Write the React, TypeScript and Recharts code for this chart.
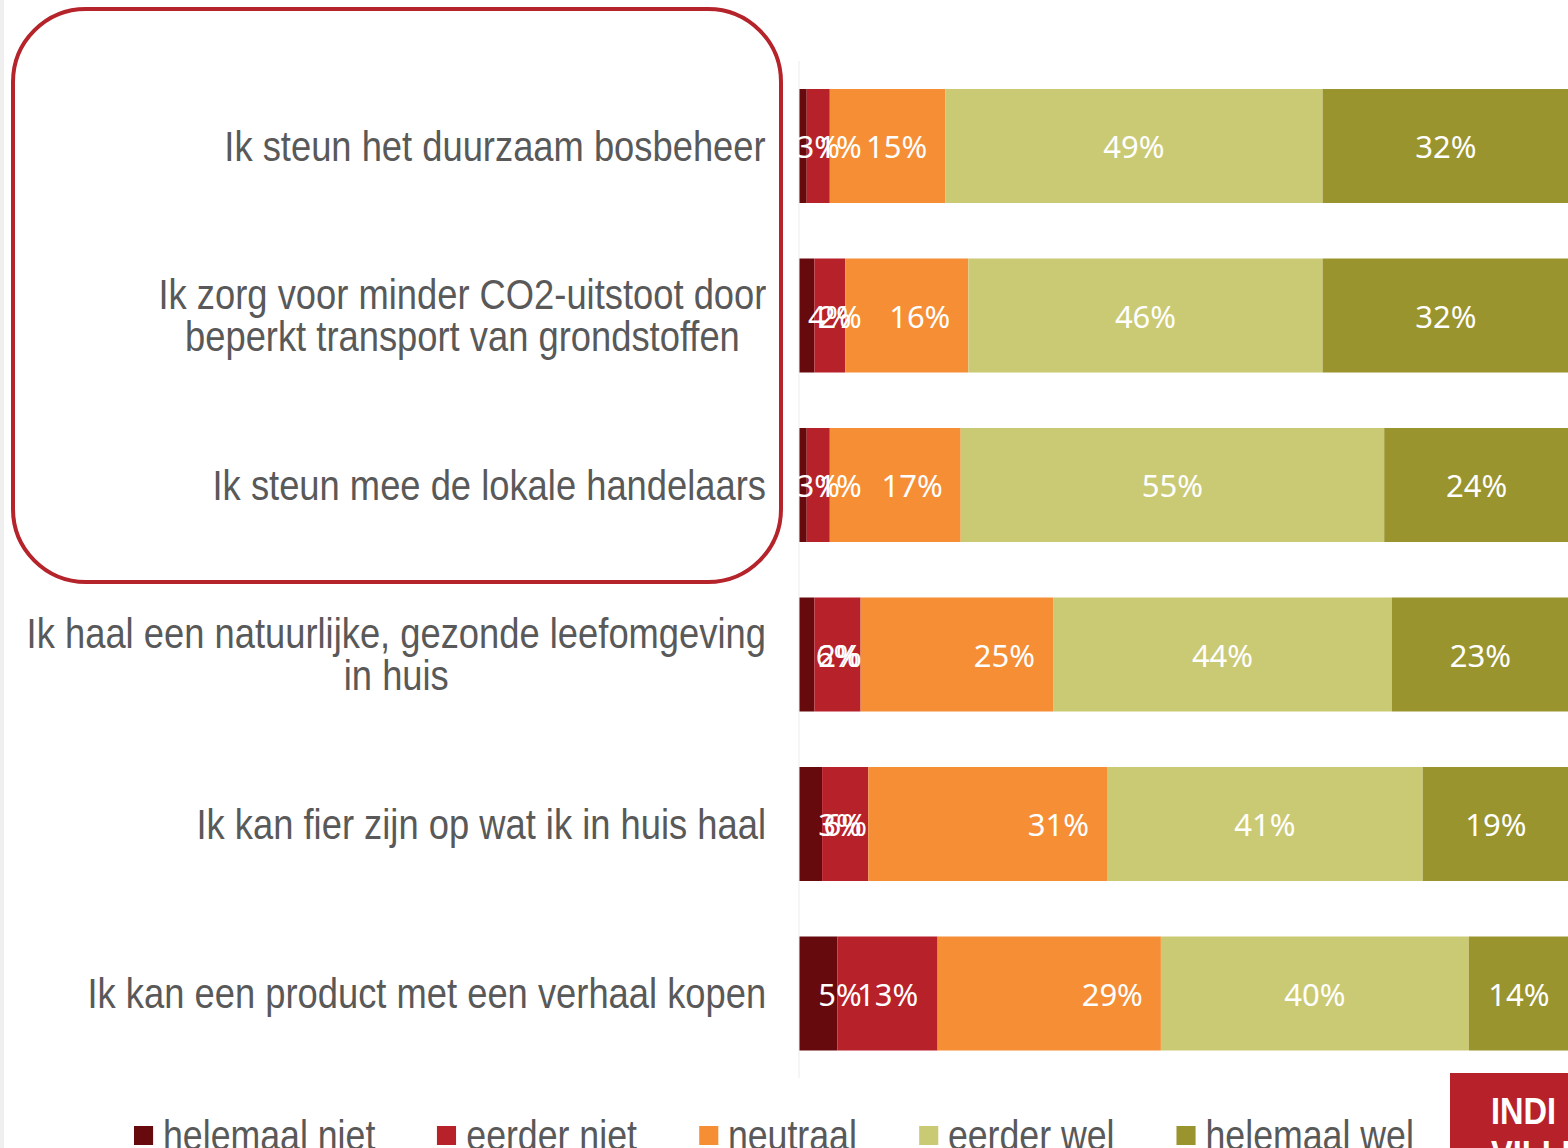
import { Bar, BarChart, LabelList, XAxis, YAxis } from 'recharts'

const categories = [
  'Ik steun het duurzaam bosbeheer',
  'Ik zorg voor minder CO2-uitstoot door\nbeperkt transport van grondstoffen',
  'Ik steun mee de lokale handelaars',
  'Ik haal een natuurlijke, gezonde leefomgeving\nin huis',
  'Ik kan fier zijn op wat ik in huis haal',
  'Ik kan een product met een verhaal kopen',
]

const helemaalNiet = [1, 2, 1, 2, 3, 5]
const eerderNiet = [3, 4, 3, 6, 6, 13]
const neutraal = [15, 16, 17, 25, 31, 29]
const eerderWel = [49, 46, 55, 44, 41, 40]
const helemaalWel = [32, 32, 24, 23, 19, 14]

const seriesNames = ['helemaal niet', 'eerder niet', 'neutraal', 'eerder wel', 'helemaal wel']
const seriesColors = ['#660a0e', '#b7212a', '#f58e35', '#cbca74', '#99942d']

const seriesValues = [helemaalNiet, eerderNiet, neutraal, eerderWel, helemaalWel]
const data = categories.map((name, i) => {
  const row: Record<string, string | number> = { name }
  seriesValues.forEach((vals, s) => {
    row[`s${s}`] = vals[i]!
  })
  return row
})

// no narrow font installed: squeeze Liberation Sans horizontally instead
const NARROW = "'Liberation Sans', Arial, sans-serif"
const TICK_SQUEEZE = 0.845
const LEGEND_SQUEEZE = 0.83
const LABEL_FONT = "'Noto Sans', 'Open Sans', sans-serif"
const TEXT_GREY = '#595959'
const LABEL_RIGHT = 766

function CategoryTick({ y, payload }: { y?: number; payload?: { value: string } }) {
  const lines = String(payload?.value ?? '').split('\n')
  return (
    <foreignObject x={-300} y={(y ?? 0) - 70} width={LABEL_RIGHT + 300} height={140}>
      <div
        style={{
          height: '100%',
          display: 'flex',
          alignItems: 'center',
          justifyContent: 'flex-end',
        }}
      >
        <div
          style={{
            textAlign: 'center',
            fontFamily: NARROW,
            fontSize: 43,
            lineHeight: '42px',
            color: TEXT_GREY,
            whiteSpace: 'nowrap',
            transform: `scaleX(${TICK_SQUEEZE})`,
            transformOrigin: 'right center',
          }}
        >
          {lines.map((l) => (
            <div key={l}>{l}</div>
          ))}
        </div>
      </div>
    </foreignObject>
  )
}

type Box = { x: number; y: number; width: number; height: number }

function boxOf(props: any): Box {
  const vb = props.viewBox ?? props
  return { x: +vb.x, y: +vb.y, width: +vb.width, height: +vb.height }
}

// where the label sits inside its segment: centre, a fixed spot near the bar start, or inside end
function makeLabel(mode: 'center' | 'base' | 'end') {
  return function SegmentLabel(props: any) {
    const { x, y, width, height } = boxOf(props)
    let tx = x + width / 2
    let anchor: 'middle' | 'end' = 'middle'
    if (mode === 'base') tx = x + 41
    if (mode === 'end') {
      tx = x + width - 18
      anchor = 'end'
    }
    return (
      <text
        x={tx}
        y={y + height / 2}
        textAnchor={anchor}
        dominantBaseline="central"
        fill="#ffffff"
        fontFamily={LABEL_FONT}
        fontSize={31}
      >
        {`${props.value}%`}
      </text>
    )
  }
}

const labelModes: ('center' | 'base' | 'end')[] = ['base', 'center', 'end', 'center', 'center']

function Legend() {
  return (
    <div
      style={{
        position: 'absolute',
        left: 134,
        top: 1114,
        display: 'flex',
        alignItems: 'center',
        fontFamily: NARROW,
        fontSize: 43,
        lineHeight: '43px',
        color: TEXT_GREY,
        whiteSpace: 'nowrap',
        transform: `scaleX(${LEGEND_SQUEEZE})`,
        transformOrigin: 'left center',
      }}
    >
      {seriesNames.map((n, i) => (
        <div
          key={n}
          style={{
            display: 'flex',
            alignItems: 'center',
            marginRight: i < seriesNames.length - 1 ? 62 / LEGEND_SQUEEZE : 0,
          }}
        >
          <span
            style={{
              display: 'inline-block',
              width: 19 / LEGEND_SQUEEZE,
              height: 19,
              background: seriesColors[i],
              marginRight: 10 / LEGEND_SQUEEZE,
            }}
          />
          <span>{n}</span>
        </div>
      ))}
    </div>
  )
}

export default function App() {
  return (
    <div
      style={{
        position: 'absolute',
        left: 0,
        top: 0,
        width: 1568,
        height: 1148,
        overflow: 'hidden',
        background: '#ffffff',
      }}
    >
      <div style={{ position: 'absolute', left: 0, top: 0, width: 4, height: 1148, background: '#efefef' }} />
      <BarChart
        width={1572}
        height={1148}
        data={data}
        layout="vertical"
        barSize={114}
        margin={{ top: 61, right: 3, bottom: 70, left: 0 }}
      >
        <XAxis type="number" domain={[0, 100]} allowDataOverflow hide />
        <YAxis
          type="category"
          dataKey="name"
          width={799}
          axisLine={{ stroke: '#ececec' }}
          tickLine={false}
          interval={0}
          tick={<CategoryTick />}
        />
        {seriesNames.map((n, i) => (
          <Bar key={n} dataKey={`s${i}`} name={n} stackId="a" fill={seriesColors[i]} isAnimationActive={false}>
            <LabelList dataKey={`s${i}`} content={makeLabel(labelModes[i]!)} />
          </Bar>
        ))}
      </BarChart>
      <div
        style={{
          position: 'absolute',
          left: 11,
          top: 7,
          width: 772,
          height: 577,
          boxSizing: 'border-box',
          border: '4px solid #b5232b',
          borderRadius: 75,
          pointerEvents: 'none',
        }}
      />
      <Legend />
      <div
        style={{
          position: 'absolute',
          left: 1450,
          top: 1073,
          width: 118,
          height: 75,
          background: '#b7212a',
          overflow: 'hidden',
          color: '#ffffff',
          fontFamily: NARROW,
          fontWeight: 700,
          fontSize: 37,
          lineHeight: '37px',
        }}
      >
        <div style={{ position: 'absolute', left: 41, top: 20, transform: 'scaleX(0.88)', transformOrigin: 'left' }}>
          INDI
        </div>
        <div style={{ position: 'absolute', left: 41, top: 63, transform: 'scaleX(0.88)', transformOrigin: 'left' }}>
          VILLE
        </div>
      </div>
    </div>
  )
}
